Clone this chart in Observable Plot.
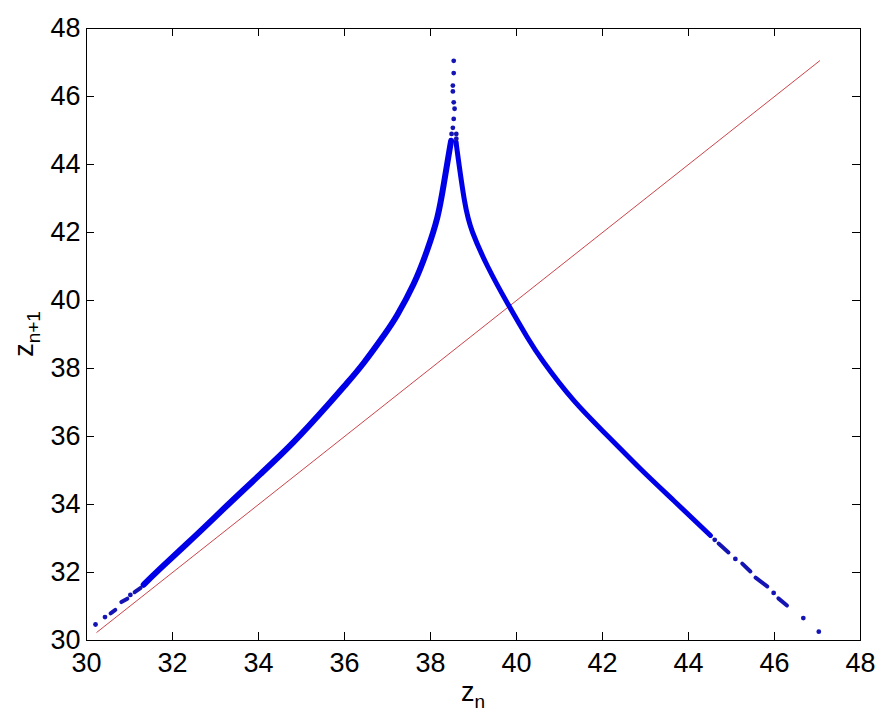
<!DOCTYPE html>
<html><head><meta charset="utf-8">
<script src="https://cdn.jsdelivr.net/npm/d3@7"></script>
<script src="https://cdn.jsdelivr.net/npm/@observablehq/plot@0.6"></script>
<style>body{margin:0;background:#fff} svg{display:block}</style>
</head><body><div id="chart"></div>
<script>
// tick labels
const xTicks = [30, 32, 34, 36, 38, 40, 42, 44, 46, 48];
const yTicks = [30, 32, 34, 36, 38, 40, 42, 44, 46, 48];

// dense left branch (z_n, z_n+1)
const leftDense = [
  [31.33, 31.64], [31.72, 32.12], [32.50, 33.04], [33.27, 33.97], [34.05, 34.90],
  [34.82, 35.84], [35.60, 36.91], [36.05, 37.56], [36.45, 38.17], [36.93, 39.00],
  [37.23, 39.58], [37.61, 40.49], [37.92, 41.47], [38.16, 42.45], [38.31, 43.43],
  [38.44, 44.41], [38.48, 44.70]
];
// dense right branch
const rightDense = [
  [38.60, 44.62], [38.62, 44.41], [38.79, 42.94], [38.98, 42.00], [39.33, 41.00],
  [39.82, 39.85], [40.25, 38.92], [40.63, 38.19], [41.33, 37.06], [42.11, 36.03],
  [42.88, 35.05], [43.66, 34.11], [44.51, 33.09]
];
// isolated points
const sparseDots = [
  [30.21, 30.47], [30.43, 30.69], [31.02, 31.34],
  [38.54, 47.05], [38.54, 46.69], [38.52, 46.32], [38.52, 46.15], [38.54, 45.83],
  [38.56, 45.64], [38.54, 45.34], [38.52, 45.08], [38.60, 44.90], [38.49, 44.90], [38.60, 44.76],
  [44.61, 32.96], [45.09, 32.40], [45.98, 31.40], [46.67, 30.66], [47.03, 30.26]
];
// short runs of points [x1, y1, x2, y2]
const sparseRuns = [
  [30.56, 30.80, 30.67, 30.90], [30.81, 31.13, 30.95, 31.23], [31.12, 31.42, 31.26, 31.55],
  [44.70, 32.85, 44.93, 32.59], [45.25, 32.26, 45.44, 32.03], [45.56, 31.85, 45.83, 31.59],
  [46.09, 31.24, 46.29, 31.03]
];
// diagonal z_{n+1} = z_n
const diagonal = [[30.24, 30.24], [47.05, 47.05]];

const W = 881, H = 716, mL = 86, mR = 21, mT = 28, mB = 76;
const pw = W - mL - mR, ph = H - mT - mB;
const font = "'Liberation Sans', Arial, Helvetica, sans-serif";
const blue = "#0000e8";
const dotBlue = "#1414b4";

const chart = Plot.plot({
  width: W, height: H,
  marginLeft: mL, marginRight: mR, marginTop: mT, marginBottom: mB,
  x: {domain: [30, 48]},
  y: {domain: [30, 48]},
  style: {fontFamily: font, background: "#fff", color: "#000"},
  marks: [
    Plot.line(diagonal, {x: d => d[0], y: d => d[1], stroke: "#c0141c", strokeWidth: 0.8}),
    Plot.line(leftDense, {x: d => d[0], y: d => d[1], stroke: blue, strokeWidth: 6, curve: "natural"}),
    Plot.line(rightDense, {x: d => d[0], y: d => d[1], stroke: blue, strokeWidth: 5, curve: "natural"}),
    Plot.link(sparseRuns, {x1: d => d[0], y1: d => d[1], x2: d => d[2], y2: d => d[3], stroke: dotBlue, strokeWidth: 4, strokeLinecap: "round"}),
    Plot.dot(sparseDots, {x: d => d[0], y: d => d[1], r: 2.4, fill: dotBlue, stroke: null}),
    Plot.frame({stroke: "#000", strokeWidth: 1}),
    Plot.tickX(xTicks, {x: d => d, insetTop: ph - 8, stroke: "#000"}),
    Plot.tickX(xTicks, {x: d => d, insetBottom: ph - 8, stroke: "#000"}),
    Plot.tickY(yTicks, {y: d => d, insetRight: pw - 8, stroke: "#000"}),
    Plot.tickY(yTicks, {y: d => d, insetLeft: pw - 8, stroke: "#000"}),
    Plot.axisX({ticks: xTicks, tickSize: 0, tickPadding: 12, fontSize: 27, label: null, tickFormat: d => String(d)}),
    Plot.axisY({ticks: yTicks, tickSize: 0, tickPadding: 6, fontSize: 27, label: null, tickFormat: d => String(d)})
  ]
});

document.getElementById("chart").appendChild(chart);
const svg = d3.select(chart);
const xl = svg.append("text")
  .attr("x", mL + pw / 2).attr("y", 701)
  .attr("text-anchor", "middle").attr("font-size", 27).attr("font-family", font).attr("fill", "#000");
xl.append("tspan").text("z");
xl.append("tspan").attr("dy", 7).attr("font-size", 19).text("n");

const yl = svg.append("text")
  .attr("transform", `translate(33, ${mT + ph / 2}) rotate(-90)`)
  .attr("text-anchor", "middle").attr("font-size", 27).attr("font-family", font).attr("fill", "#000");
yl.append("tspan").text("z");
yl.append("tspan").attr("dy", 7).attr("font-size", 19).text("n+1");
</script>
</body></html>
